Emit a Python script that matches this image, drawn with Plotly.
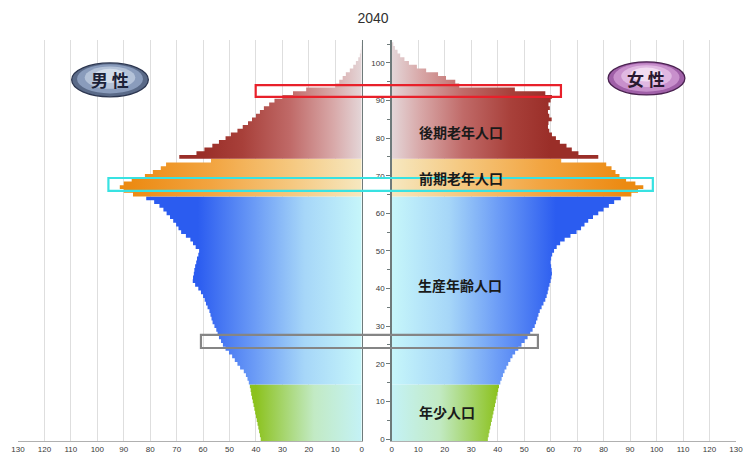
import plotly.graph_objects as go

# ---------------- data (unit: 10,000 persons) ----------------
ages = list(range(0, 106))
male = [
    38.2, 38.5, 38.8, 39.1, 39.4, 39.7, 40.0, 40.3, 40.6, 40.9, 41.2, 41.5, 41.8, 42.0, 42.3,
    42.7, 43.2, 43.8, 44.6, 46.0, 47.0, 48.0, 49.0, 50.2, 51.5,
    52.5, 53.2, 54.0, 54.5, 55.0, 55.7, 56.4, 56.8, 57.2, 57.6,
    58.3, 58.9, 59.4, 60.0, 60.8, 61.8, 63.0, 63.9, 63.8, 63.5,
    63.3, 63.0, 62.6, 62.3, 61.8, 61.5, 62.8, 63.8, 64.8, 66.5,
    68.3, 69.3, 70.2, 71.3, 72.5, 73.8, 75.0, 76.5, 78.5, 81.5,
    86.5, 90.0, 91.5, 90.0, 87.0, 82.0, 79.0, 76.0, 74.0, 57.0,
    69.0, 62.5, 59.5, 56.5, 54.0, 51.5, 49.5, 47.0, 45.0, 43.0,
    41.5, 40.0, 38.5, 37.0, 35.0, 33.0, 30.0, 26.0, 21.0, 10.0,
    8.5, 7.2, 6.0, 4.5, 3.2, 2.2, 1.3, 0.7, 0.4, 0.2, 0.1,
]
female = [
    36.3, 36.6, 36.9, 37.2, 37.5, 37.8, 38.1, 38.4, 38.7, 39.0, 39.3, 39.6, 39.9, 40.2, 40.5,
    41.0, 41.5, 42.0, 42.6, 43.3, 44.0, 44.8, 45.6, 46.6, 47.8,
    49.0, 50.2, 51.3, 52.3, 53.2, 54.0, 54.5, 55.0, 55.4, 55.9,
    56.6, 57.3, 58.0, 58.5, 58.9, 59.2, 59.6, 60.0, 60.3, 60.5,
    60.4, 60.2, 60.0, 60.2, 60.6, 61.3, 62.3, 63.6, 65.3, 67.5,
    69.8, 71.5, 72.8, 74.2, 76.0, 78.0, 80.0, 82.0, 84.0, 86.5,
    90.5, 93.0, 95.0, 92.0, 88.5, 86.0, 84.5, 83.0, 81.0, 64.0,
    78.0, 70.5, 68.0, 66.0, 63.5, 62.0, 60.5, 59.5, 59.0, 59.2,
    60.4, 59.5, 59.0, 59.7, 59.2, 60.0, 60.5, 58.0, 46.5, 25.5,
    24.0, 20.5, 17.5, 13.0, 9.5, 6.5, 4.8, 3.2, 2.2, 1.2, 0.6,
]

group_names = ["年少人口", "生産年齢人口", "前期老年人口", "後期老年人口"]
group_ranges = [(0, 14), (15, 64), (65, 74), (75, 105)]
group_scales = [
    [[0, "#c4f2f6"], [0.45, "#c2eac4"], [1, "#8cc21e"]],
    [[0, "#c6f6fa"], [0.35, "#a6d6f8"], [0.65, "#6c9cf6"], [1, "#2b5cf0"]],
    [[0, "#f6e8c0"], [0.3, "#f5c880"], [0.65, "#f2a440"], [1, "#ec8a12"]],
    [[0, "#e4d6d8"], [0.18, "#d8a8a8"], [0.45, "#c06a68"], [0.75, "#a8403a"], [1, "#9a2e28"]],
]
group_stop = [40, 62, 88, 60]

labels_text = ["後期老年人口", "前期老年人口", "生産年齢人口", "年少人口"]
labels_pos = [(26, 81.7), (26, 69.3), (25.6, 41), (21, 7.3)]

x_ticks = list(range(0, 131, 10))
y_ticks = list(range(0, 101, 10))

# ---------------- figure geometry ----------------
W, H = 746, 453
ML, MR, MT, MB = 18, 10, 40, 12
XMAX = 130
YR = [-0.53, 106.1]
dom_left = [0, 0.4787]
dom_right = [0.5205, 1]


def step_poly(vals, a0, a1):
    xs, ys = [0], [a0 - 0.5]
    for a in range(a0, a1 + 1):
        v = vals[a]
        xs += [v, v]
        ys += [a - 0.5, a + 0.5]
    xs.append(0)
    ys.append(a1 + 0.5)
    xs.append(0)
    ys.append(a0 - 0.5)
    return xs, ys


fig = go.Figure()
for name, (a0, a1), cs, stop in zip(group_names, group_ranges, group_scales, group_stop):
    for vals, xa, ya in [(male, "x", "y"), (female, "x2", "y2")]:
        xs, ys = step_poly(vals, a0, a1)
        fig.add_trace(go.Scatter(
            x=xs, y=ys, xaxis=xa, yaxis=ya, mode="lines", fill="toself",
            line=dict(width=0), name=name, showlegend=False, hoverinfo="skip",
            fillgradient=dict(type="horizontal", colorscale=cs, start=0, stop=stop),
        ))

# region labels
for t, (xv, yv) in zip(labels_text, labels_pos):
    fig.add_annotation(x=xv, y=yv, xref="x2", yref="y2", text=t, showarrow=False,
                       font=dict(family="Noto Sans CJK JP", size=14, color="#1a1a1a",
                                 weight="bold"))


def to_paper_x(side, v):
    d = dom_left if side == "L" else dom_right
    frac = (XMAX - v) / XMAX if side == "L" else v / XMAX
    return d[0] + frac * (d[1] - d[0])


def to_paper_y(a):
    return (a - YR[0]) / (YR[1] - YR[0])


# highlight boxes (male value, female value, age low, age high)
boxes = [
    (40.1, 63.9, 91.0, 94.1, "#e8202a"),
    (95.8, 98.6, 66.0, 69.4, "#38e2e2"),
    (60.8, 55.2, 24.2, 27.7, "#858585"),
]
for mv, fv, lo, hi, col in boxes:
    fig.add_shape(type="rect", xref="paper", yref="paper",
                  x0=to_paper_x("L", mv), x1=to_paper_x("R", fv),
                  y0=to_paper_y(lo), y1=to_paper_y(hi),
                  line=dict(color=col, width=2.2), fillcolor="rgba(0,0,0,0)")

# gender badges (ellipses)
badges = [
    ("x", "y", 95.2, 95.5, 14.5, 4.5, ["#5a6a88", "#8a9cbc", "#b4c2d8", "#d2dcea"], "#2c3650", "男 性", "#1c2238"),
    ("x2", "y2", 96.2, 95.9, 14.5, 4.4, ["#a060a8", "#c890cc", "#e0b8e2", "#f2dcf2"], "#4a2250", "女 性", "#2a1830"),
]
for xa, ya, cx, cy, rx, ry, cols, edge, txt, tcol in badges:
    scales = [1.0, 0.86, 0.66, 0.42]
    for i, (c, s) in enumerate(zip(cols, scales)):
        shift = 0 if i == 0 else 0.4 * (1 - s) * ry
        fig.add_shape(type="circle", xref=xa, yref=ya,
                      x0=cx - rx * s, x1=cx + rx * s,
                      y0=cy - ry * s + shift, y1=cy + ry * s + shift,
                      fillcolor=c, line=dict(color=edge if i == 0 else c, width=1.3 if i == 0 else 0),
                      layer="above")
    fig.add_annotation(x=cx, y=cy, xref=xa, yref=ya, text=txt, showarrow=False,
                       font=dict(family="Noto Sans CJK JP", size=17, color=tcol, weight="bold"))

tickfont = dict(family="Liberation Sans", size=8, color="#383838")
xcommon = dict(tickvals=x_ticks, ticktext=[str(v) for v in x_ticks], showgrid=True,
               gridcolor="#dedede", gridwidth=1, zeroline=False, showline=True,
               linecolor="#b0b0b0", linewidth=1, ticks="",
               tickfont=tickfont, fixedrange=True, automargin=False)

fig.update_layout(
    width=W, height=H, autosize=False,
    margin=dict(l=ML, r=MR, t=MT, b=MB, pad=0, autoexpand=False),
    paper_bgcolor="white", plot_bgcolor="white",
    title=dict(text="2040", x=373 / W, xref="container", y=1 - 18 / H, yref="container",
               yanchor="middle", automargin=False,
               font=dict(family="Liberation Sans", size=14, color="#303030")),
    xaxis=dict(domain=dom_left, range=[XMAX, 0], anchor="y", **xcommon),
    xaxis2=dict(domain=dom_right, range=[0, XMAX], anchor="y2", **xcommon),
    yaxis=dict(range=YR, anchor="x", side="right", showgrid=False, zeroline=False,
               showline=True, linecolor="#6e7a7a", linewidth=1.5, showticklabels=False,
               ticks="", automargin=False, fixedrange=True),
    yaxis2=dict(range=YR, anchor="x2", side="left", matches="y", showgrid=False,
                zeroline=False, showline=True, linecolor="#6e7a7a", linewidth=1.5,
                tickvals=y_ticks, ticktext=[str(v) for v in y_ticks], ticks="outside",
                ticklen=4, tickcolor="#6e7a7a", tickfont=tickfont, automargin=False,
                fixedrange=True,
                minor=dict(dtick=5, ticks="outside", ticklen=3, tickcolor="#6e7a7a")),
    showlegend=False,
)

fig.write_html(
    "out.html",
    config={"displayModeBar": False, "staticPlot": True},
    post_script="document.body.style.margin='0';document.body.style.overflow='hidden';",
)
